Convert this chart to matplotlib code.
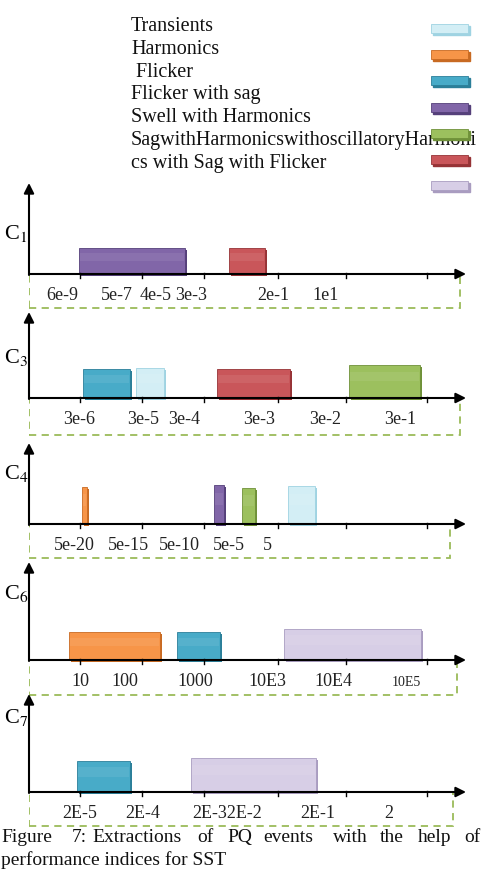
import matplotlib
matplotlib.use('Agg')
import matplotlib.pyplot as plt
from matplotlib.patches import Rectangle

plt.rcParams['font.family'] = ['Liberation Serif', 'DejaVu Serif']
plt.rcParams['mathtext.fontset'] = 'stix'

W, H = 483, 875

# event colours (face, shadow)
palette = {
    'transient': ('#d3eef5', '#9fd3e2'),
    'orange': ('#f79548', '#c86a22'),
    'teal': ('#48abc8', '#2b7f99'),
    'purple': ('#8166a8', '#55407a'),
    'green': ('#9cc05e', '#6f9139'),
    'red': ('#c9565a', '#963336'),
    'lavender': ('#d7cee6', '#a99cc0'),
}

# legend
legend_labels = ['Transients', 'Harmonics', ' Flicker', 'Flicker with sag',
                 'Swell with Harmonics', 'SagwithHarmonicswithoscillatoryHarmoni',
                 'cs with Sag with Flicker']
legend_swatches = ['transient', 'orange', 'teal', 'purple', 'green', 'red', 'lavender']

# panels: tick labels, event bars (colour, start, end, height)
c1_labels = ['6e-9', '5e-7', '4e-5', '3e-3', '2e-1', '1e1']
c1_bars = [('purple', 50, 156, 26), ('red', 200, 236, 26)]

c3_labels = ['3e-6', '3e-5', '3e-4', '3e-3', '3e-2', '3e-1']
c3_bars = [('teal', 54, 101, 29), ('transient', 107, 135, 30),
           ('red', 188, 261, 29), ('green', 320, 391, 33)]

c4_labels = ['5e-20', '5e-15', '5e-10', '5e-5', '5']
c4_bars = [('orange', 53, 58, 37), ('purple', 185, 195, 39),
           ('green', 213, 226, 36), ('transient', 259, 286, 38)]

c6_labels = ['10', '100', '1000', '10E3', '10E4', '10E5']
c6_bars = [('orange', 40, 131, 28), ('teal', 148, 191, 28), ('lavender', 255, 392, 31)]

c7_labels = ['2E-5', '2E-4', '2E-32E-2', '2E-1', '2']
c7_bars = [('teal', 48, 101, 31), ('lavender', 162, 287, 34)]

tick_pos = [51, 113, 175, 249, 317, 398]

# layout (pixels): subscript, baseline, arrow top, box bottom, box right, label x
panels = [
    ('1', 274, 183, 309, 460, c1_labels, [33, 88, 127, 162, 244, 297], c1_bars),
    ('3', 398, 312, 436, 460, c3_labels, [50, 114, 155, 230, 296, 371], c3_bars),
    ('4', 524, 443, 559, 450, c4_labels, [45, 99, 150, 200, 238], c4_bars),
    ('6', 660, 562, 696, 457, c6_labels, [51, 96, 166, 238, 304, 377], c6_bars),
    ('7', 792, 694, 827, 453, c7_labels, [51, 114, 198, 289, 360], c7_bars),
]
name_y = [233, 358, 473, 593, 717]

fig = plt.figure(figsize=(W / 100, H / 100), dpi=100)

X0, XR = 29, 474
for (sub, base, top, bot, boxr, labels, lpos, bars), ny in zip(panels, name_y):
    ax = fig.add_axes([X0 / W, 1 - bot / H, (XR - X0) / W, (bot - top) / H])
    ax.set_xlim(0, XR - X0)
    ax.set_ylim(-(bot - base), base - top)
    ax.axis('off')

    # dashed frame below the axis
    ax.add_patch(Rectangle((0, -(bot - base) + 1), boxr - X0, bot - base - 1,
                           fill=False, ec='#9bbb59', ls=(0, (4, 3)), lw=1.3, zorder=1))

    # event bars
    for key, x1, x2, h in bars:
        face, shade = palette[key]
        ax.bar(x1 + 2, h, x2 - x1, bottom=-2, align='edge', color=shade, zorder=2)
        ax.bar(x1, h, x2 - x1, align='edge', color=face, ec=shade, lw=0.6, zorder=3)
        ax.bar(x1 + 1, h * 0.3, x2 - x1 - 2, bottom=h * 0.5, align='edge',
               color='white', alpha=0.08, lw=0, zorder=4)

    # axes with arrows
    ax.annotate('', xy=(437, 0), xytext=(0, 0), annotation_clip=False,
                arrowprops=dict(arrowstyle='-|>', lw=1.5, color='black',
                                mutation_scale=15, shrinkA=0, shrinkB=0), zorder=5)
    ax.annotate('', xy=(0, base - top), xytext=(0, -1), annotation_clip=False,
                arrowprops=dict(arrowstyle='-|>', lw=1.5, color='black',
                                mutation_scale=15, shrinkA=0, shrinkB=0), zorder=5)
    for t in tick_pos:
        ax.plot([t, t], [-4, 1], color='black', lw=1.0, zorder=5)

    for lab, xp in zip(labels, lpos):
        fs = 10 if lab == '10E5' else 13
        ax.text(xp, -22, lab, ha='center', va='center', fontsize=fs, color='#222222')

    fig.text(4 / W, 1 - ny / H, 'C$_{%s}$' % sub, ha='left', va='center', fontsize=16)

# legend text and swatches
for i, (lab, key) in enumerate(zip(legend_labels, legend_swatches)):
    yb = 31 + i * 22.8
    fig.text(131 / W, 1 - yb / H, lab, ha='left', va='baseline', fontsize=14.5,
             color='#111111', zorder=1)
    ys = 24 + i * 26.2
    face, shade = palette[key]
    fig.patches.append(Rectangle(((431 + 2) / W, 1 - (ys + 11) / H), 37 / W, 9 / H,
                                 transform=fig.transFigure, color=shade, zorder=3))
    fig.patches.append(Rectangle((431 / W, 1 - (ys + 9) / H), 37 / W, 9 / H,
                                 transform=fig.transFigure, fc=face, ec=shade,
                                 lw=0.6, zorder=4))

# caption, justified first line
cap_words = ['Figure', '7:', 'Extractions', 'of', 'PQ', 'events', 'with', 'the', 'help', 'of']
cap_x = [1, 72, 92, 197, 227, 263, 333, 380, 418, 464]
for w, xp in zip(cap_words, cap_x):
    fig.text(xp / W, 1 - 842 / H, w, ha='left', va='baseline', fontsize=14, color='#111111')
fig.text(1 / W, 1 - 865 / H, 'performance indices for SST', ha='left', va='baseline',
         fontsize=14, color='#111111')

fig.savefig('out.png', dpi=100)
